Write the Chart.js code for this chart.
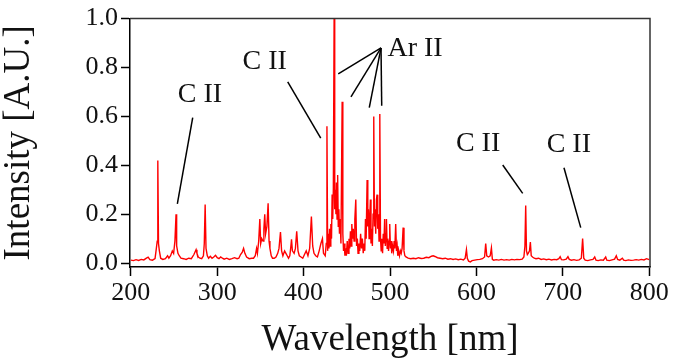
<!DOCTYPE html>
<html>
<head>
<meta charset="utf-8">
<script src="https://cdn.jsdelivr.net/npm/chart.js@4.4.0/dist/chart.umd.min.js"></script>
<style>
  body { margin: 0; background: #fff; }
  #wrap { width: 673px; height: 360px; }
</style>
</head>
<body>
<div id="wrap"><canvas id="myChart" width="673" height="360"></canvas></div>
<script>
// spectrum (wavelength in nm, intensity in A.U.), 10 per row
const wavelength = [
  200, 203, 206, 209, 212, 215, 218, 220, 222, 225,
  228, 229.5, 230.5, 231.2, 232, 233, 234.5, 237, 240, 242.5,
  244, 246, 248, 249.5, 251, 252.3, 253, 254.5, 256, 258,
  261, 264, 267, 270, 273, 275.5, 276.5, 278, 280, 282,
  284, 285, 286, 287, 288.5, 290, 292, 294, 296, 298,
  300, 302, 304, 306, 308, 311, 314, 317, 320, 323,
  325, 327, 329, 330.5, 332, 334, 337, 340, 342, 344,
  345.5, 346.5, 348, 349.3, 350.3, 351.5, 353, 354, 355, 356,
  357.5, 358.9, 360, 361, 362.5, 364, 366, 368, 370, 371.5,
  373.2, 374.5, 376, 378, 379.5, 381, 382.5, 384, 385, 386,
  387, 389, 390.5, 392, 393.5, 395, 397, 399, 401, 403,
  405, 407, 409, 410.5, 412, 414, 416, 418, 420, 421.8,
  423, 425, 426.2, 427, 427.8, 428.5, 429.3, 430, 430.8, 431.5,
  432.3, 433, 433.7, 434.4, 435.3, 436, 436.7, 437.4, 438, 438.7,
  439.4, 440.1, 440.8, 441.5, 442.3, 443.2, 444.6, 445.4, 446.2, 447,
  447.8, 448.6, 449.5, 450.5, 451.5, 452.5, 453.4, 454.2, 455, 455.8,
  456.6, 457.5, 458.4, 459.3, 460.4, 461.3, 462.2, 463, 464, 465,
  466, 467, 468, 469, 470, 470.8, 471.6, 472.4, 473.5, 474.3,
  475, 475.8, 476.5, 477.3, 478, 478.8, 479.6, 480.4, 481.2, 482,
  482.8, 483.5, 484.3, 485, 485.8, 486.6, 487.3, 488.2, 489, 489.8,
  490.6, 491.4, 492.2, 493, 493.8, 494.6, 495.4, 495.9, 496.7, 497.5,
  498.3, 499, 499.7, 500.5, 501.3, 502, 503, 504, 504.8, 505.6,
  506.6, 507.5, 508.3, 509, 510, 511, 512, 513, 514, 515.2,
  516.2, 517.2, 518.5, 521, 524, 527, 530, 533, 536, 539,
  542, 545, 548, 550, 552, 555, 558, 561, 564, 567,
  570, 573, 576, 579, 582, 585, 587, 588.5, 589.5, 591,
  593, 595, 598, 601, 604, 607, 609.5, 610.8, 612, 614,
  616, 617.4, 618.5, 620, 623, 626, 629, 632, 635, 638,
  641, 644, 647, 650, 653, 655, 656.2, 657.1, 658, 659,
  660, 661.5, 662.5, 663.5, 665, 667, 669, 672, 675, 678,
  681, 684, 687, 690, 693, 695.5, 697, 698.5, 701, 704,
  706, 707.5, 710, 713, 716, 719, 721.5, 723, 724.3, 726,
  729, 732, 735, 737, 738.5, 741, 744, 747, 749.7, 751,
  754, 757, 760, 762, 763.5, 766, 769, 770.5, 773, 776,
  779, 782, 785, 788, 791, 794, 797, 800
];
const intensity = [
  0.012, 0.010, 0.014, 0.011, 0.015, 0.013, 0.020, 0.024, 0.014, 0.012,
  0.018, 0.06, 0.09, 0.42, 0.08, 0.05, 0.02, 0.015, 0.018, 0.03,
  0.02, 0.03, 0.05, 0.04, 0.09, 0.20, 0.07, 0.04, 0.03, 0.02,
  0.018, 0.015, 0.02, 0.018, 0.035, 0.055, 0.04, 0.025, 0.02, 0.018,
  0.03, 0.08, 0.24, 0.06, 0.03, 0.02, 0.028, 0.02, 0.025, 0.032,
  0.022, 0.018, 0.025, 0.02, 0.016, 0.02, 0.015, 0.018, 0.022, 0.018,
  0.02, 0.035, 0.045, 0.06, 0.04, 0.025, 0.018, 0.02, 0.02, 0.03,
  0.06, 0.04, 0.09, 0.18, 0.08, 0.10, 0.09, 0.14, 0.20, 0.12,
  0.15, 0.245, 0.09, 0.06, 0.03, 0.02, 0.02, 0.025, 0.04, 0.06,
  0.127, 0.05, 0.03, 0.05, 0.04, 0.03, 0.02, 0.03, 0.06, 0.097,
  0.05, 0.04, 0.06, 0.13, 0.05, 0.03, 0.025, 0.02, 0.035, 0.05,
  0.03, 0.06, 0.19, 0.07, 0.04, 0.03, 0.025, 0.05, 0.08, 0.10,
  0.04, 0.03, 0.08, 0.56, 0.05, 0.12, 0.06, 0.14, 0.07, 0.16,
  0.10, 0.28, 0.18, 0.30, 1.0, 0.22, 0.30, 0.20, 0.33, 0.18,
  0.36, 0.15, 0.22, 0.12, 0.18, 0.08, 0.66, 0.12, 0.05, 0.08,
  0.03, 0.06, 0.03, 0.09, 0.04, 0.10, 0.06, 0.13, 0.07, 0.16,
  0.10, 0.14, 0.09, 0.18, 0.26, 0.07, 0.10, 0.04, 0.08, 0.05,
  0.12, 0.06, 0.10, 0.04, 0.08, 0.05, 0.18, 0.10, 0.34, 0.15,
  0.22, 0.10, 0.18, 0.26, 0.08, 0.14, 0.07, 0.20, 0.60, 0.15,
  0.22, 0.12, 0.26, 0.28, 0.14, 0.20, 0.09, 0.61, 0.10, 0.05,
  0.10, 0.04, 0.12, 0.08, 0.18, 0.07, 0.12, 0.18, 0.06, 0.10,
  0.05, 0.09, 0.16, 0.06, 0.09, 0.04, 0.07, 0.05, 0.09, 0.06,
  0.16, 0.05, 0.07, 0.03, 0.05, 0.03, 0.05, 0.04, 0.06, 0.145,
  0.05, 0.03, 0.025, 0.02, 0.018, 0.02, 0.018, 0.022, 0.019, 0.02,
  0.024, 0.022, 0.028, 0.03, 0.027, 0.022, 0.02, 0.018, 0.02, 0.016,
  0.018, 0.015, 0.017, 0.014, 0.016, 0.013, 0.02, 0.055, 0.02, 0.008,
  0.005, 0.01, 0.012, 0.014, 0.015, 0.018, 0.025, 0.08, 0.03, 0.025,
  0.03, 0.062, 0.015, 0.012, 0.014, 0.012, 0.015, 0.012, 0.014, 0.012,
  0.015, 0.013, 0.015, 0.014, 0.016, 0.025, 0.07, 0.235, 0.05, 0.035,
  0.04, 0.05, 0.086, 0.03, 0.025, 0.02, 0.018, 0.02, 0.015, 0.017,
  0.014, 0.016, 0.013, 0.015, 0.014, 0.018, 0.026, 0.014, 0.013, 0.016,
  0.026, 0.015, 0.012, 0.014, 0.011, 0.013, 0.02, 0.10, 0.02, 0.012,
  0.01, 0.013, 0.015, 0.025, 0.012, 0.01, 0.013, 0.012, 0.025, 0.012,
  0.01, 0.013, 0.016, 0.03, 0.015, 0.012, 0.02, 0.012, 0.01, 0.013,
  0.011, 0.012, 0.014, 0.012, 0.015, 0.013, 0.018, 0.014
];

const xTicks = [200, 300, 400, 500, 600, 700, 800];
const yTicks = [0.0, 0.2, 0.4, 0.6, 0.8, 1.0];

// peak labels: text and where it sits (wavelength, intensity)
const annoText = ['C II', 'C II', 'Ar II', 'C II', 'C II'];
const annoX = [280, 355, 529, 602, 707];
const annoY = [0.69, 0.826, 0.879, 0.488, 0.486];
// pointer lines [x1, y1, x2, y2] in data units
const annoLines = [
  [271.6, 0.595, 253.8, 0.242],
  [381.6, 0.741, 419.8, 0.511],
  [489.6, 0.880, 440.1, 0.774],
  [489.6, 0.880, 454.8, 0.680],
  [489.6, 0.880, 476.0, 0.636],
  [489.6, 0.880, 490.4, 0.644],
  [630.5, 0.401, 653.6, 0.285],
  [701.4, 0.390, 720.8, 0.145]
];

const serif = '"Liberation Serif", "Times New Roman", serif';

const points = [];
for (var i = 0; i < wavelength.length; i++) {
  points.push({ x: wavelength[i], y: intensity[i] });
}

const frameAndLabels = {
  id: 'frameAndLabels',
  afterDatasetsDraw: function(chart) {
    var ctx = chart.ctx;
    var a = chart.chartArea;
    var xs = chart.scales.x, ys = chart.scales.y;
    ctx.save();
    // top and right edges of the box
    ctx.strokeStyle = '#333';
    ctx.lineWidth = 1.5;
    ctx.beginPath();
    ctx.moveTo(a.left, a.top);
    ctx.lineTo(a.right, a.top);
    ctx.lineTo(a.right, a.bottom);
    ctx.stroke();
    // pointer lines
    ctx.strokeStyle = '#000';
    ctx.lineWidth = 1.5;
    annoLines.forEach(function(l) {
      ctx.beginPath();
      ctx.moveTo(xs.getPixelForValue(l[0]), ys.getPixelForValue(l[1]));
      ctx.lineTo(xs.getPixelForValue(l[2]), ys.getPixelForValue(l[3]));
      ctx.stroke();
    });
    // peak labels
    ctx.fillStyle = '#111';
    ctx.font = '28px ' + serif;
    ctx.textAlign = 'center';
    ctx.textBaseline = 'middle';
    for (var k = 0; k < annoText.length; k++) {
      ctx.fillText(annoText[k], xs.getPixelForValue(annoX[k]), ys.getPixelForValue(annoY[k]));
    }
    ctx.restore();
  }
};

var ctx = document.getElementById('myChart').getContext('2d');
var chart = new Chart(ctx, {
  type: 'line',
  data: {
    datasets: [{
      data: points,
      borderColor: 'rgb(255, 0, 0)',
      borderWidth: 1.4,
      pointRadius: 0,
      tension: 0,
      fill: false
    }]
  },
  options: {
    responsive: false,
    animation: false,
    devicePixelRatio: 1,
    layout: { padding: { top: 16, right: 23, left: 0, bottom: 0 } },
    plugins: { legend: { display: false }, tooltip: { enabled: false } },
    scales: {
      x: {
        type: 'linear',
        min: 199,
        max: 801,
        afterFit: function(s) { s.height = 93; },
        afterBuildTicks: function(s) { s.ticks = xTicks.map(function(v) { return { value: v }; }); },
        grid: { drawOnChartArea: false, drawTicks: true, tickLength: 9, tickColor: '#000', tickWidth: 1.5 },
        border: { display: true, color: '#000', width: 1.5 },
        ticks: { color: '#111', font: { family: serif, size: 26 }, padding: 2, maxRotation: 0,
                 callback: function(v) { return String(v); } },
        title: { display: true, text: 'Wavelength [nm]', color: '#111',
                 font: { family: serif, size: 37, lineHeight: 1.05 }, padding: { top: 0, bottom: 0 } }
      },
      y: {
        type: 'linear',
        min: -0.016,
        max: 1.0,
        afterFit: function(s) { s.width = 130; },
        afterBuildTicks: function(s) { s.ticks = yTicks.map(function(v) { return { value: v }; }); },
        grid: { drawOnChartArea: false, drawTicks: true, tickLength: 9, tickColor: '#000', tickWidth: 1.5 },
        border: { display: true, color: '#000', width: 1.5 },
        ticks: { color: '#111', font: { family: serif, size: 26 }, padding: 3,
                 callback: function(v) { return v.toFixed(1); } },
        title: { display: true, text: 'Intensity [A.U.]', color: '#111',
                 font: { family: serif, size: 37, lineHeight: 1.05 }, padding: { top: 0, bottom: 0 } }
      }
    }
  },
  plugins: [frameAndLabels]
});
</script>
</body>
</html>
